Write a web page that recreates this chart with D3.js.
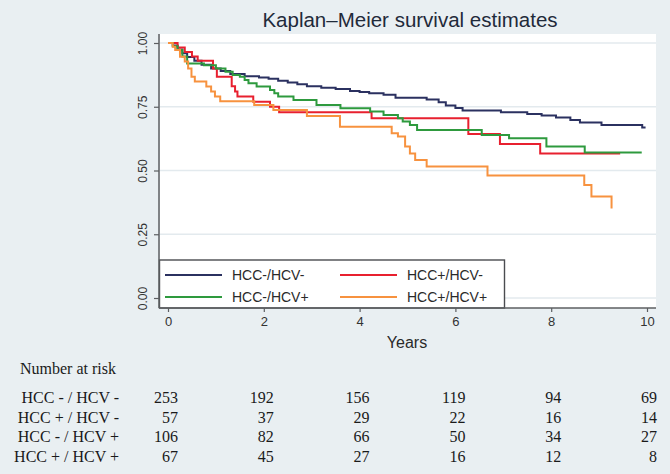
<!DOCTYPE html>
<html><head><meta charset="utf-8">
<script src="https://cdn.jsdelivr.net/npm/d3@7"></script>
<style>
html,body{margin:0;padding:0;background:#e9eff2;}
svg{display:block;}
</style></head>
<body><svg id="c" width="670" height="474"></svg>
<script>
// ---- data ----
const title = "Kaplan\u2013Meier survival estimates";
const xTicks = [0, 2, 4, 6, 8, 10];
const yTicks = [0, 0.25, 0.5, 0.75, 1];
const seriesNames = ["HCC-/HCV-", "HCC+/HCV-", "HCC-/HCV+", "HCC+/HCV+"];
const seriesColors = ["#2b3160", "#e8202f", "#2e9a3e", "#f7923f"];
// KM step points [years, survival]
const hccNegHcvNeg = [[0,1],[0.1,0.99],[0.2,0.975],[0.3,0.96],[0.4,0.945],[0.55,0.93],[0.7,0.915],[0.9,0.9],[1.1,0.89],[1.3,0.878],[1.6,0.87],[1.9,0.865],[2.1,0.86],[2.3,0.852],[2.5,0.845],[2.7,0.838],[2.9,0.83],[3.2,0.825],[3.5,0.82],[3.8,0.812],[4.0,0.808],[4.2,0.803],[4.5,0.797],[4.75,0.785],[5.4,0.778],[5.65,0.768],[5.8,0.755],[6.0,0.745],[6.15,0.735],[6.95,0.728],[7.5,0.722],[7.8,0.716],[8.1,0.708],[8.4,0.698],[8.6,0.688],[9.05,0.678],[9.9,0.669],[9.97,0.669]];
const hccPosHcvNeg = [[0,1],[0.2,0.982],[0.35,0.965],[0.5,0.947],[0.62,0.93],[0.94,0.9],[1.02,0.868],[1.33,0.83],[1.4,0.81],[1.45,0.79],[1.78,0.77],[2.13,0.75],[2.32,0.728],[4.25,0.705],[6.27,0.643],[6.93,0.604],[7.77,0.567],[9.44,0.567]];
const hccNegHcvPos = [[0,1],[0.1,0.987],[0.2,0.973],[0.3,0.947],[0.4,0.92],[0.75,0.913],[1.0,0.9],[1.2,0.887],[1.35,0.875],[1.5,0.868],[1.6,0.855],[1.68,0.842],[1.85,0.829],[2.13,0.816],[2.22,0.803],[2.3,0.79],[2.62,0.776],[3.1,0.757],[3.6,0.744],[4.22,0.731],[4.5,0.718],[4.8,0.705],[4.9,0.692],[5.05,0.678],[5.2,0.659],[6.55,0.639],[7.12,0.626],[7.9,0.594],[8.7,0.571],[9.89,0.571]];
const hccPosHcvPos = [[0,1],[0.1,0.985],[0.15,0.973],[0.25,0.946],[0.35,0.927],[0.42,0.9],[0.49,0.868],[0.56,0.849],[0.8,0.829],[0.9,0.81],[0.98,0.79],[1.09,0.772],[1.8,0.757],[2.2,0.737],[2.9,0.714],[3.59,0.672],[4.67,0.646],[4.8,0.633],[4.95,0.594],[5.05,0.567],[5.16,0.541],[5.4,0.516],[6.67,0.48],[8.69,0.443],[8.84,0.398],[9.26,0.351]];
const riskLabels = ["HCC - / HCV -", "HCC + / HCV -", "HCC - / HCV +", "HCC + / HCV +"];
const riskHccNegHcvNeg = [253, 192, 156, 119, 94, 69];
const riskHccPosHcvNeg = [57, 37, 29, 22, 16, 14];
const riskHccNegHcvPos = [106, 82, 66, 50, 34, 27];
const riskHccPosHcvPos = [67, 45, 27, 16, 12, 8];

// ---- drawing ----
const svg = d3.select("#c");
const x = d3.scaleLinear().domain([0, 10]).range([168, 647]);
const y = d3.scaleLinear().domain([0, 1]).range([298, 43]);
const plot = {l: 160, r: 656, t: 34, b: 308};
const axisCol = "#5d5f62";
const sans = "'Liberation Sans', Arial, Helvetica, sans-serif";
const serif = "'Liberation Serif', 'Times New Roman', serif";

svg.append("text").attr("x", 410).attr("y", 27).attr("text-anchor", "middle")
  .attr("font-family", sans).attr("font-size", 20.5).attr("fill", "#1f2a3a").text(title);

svg.append("rect").attr("x", plot.l).attr("y", plot.t).attr("width", plot.r - plot.l)
  .attr("height", plot.b - plot.t).attr("fill", "#ffffff");

svg.append("g").selectAll("line").data(yTicks).join("line")
  .attr("x1", plot.l).attr("x2", plot.r).attr("y1", d => y(d)).attr("y2", d => y(d))
  .attr("stroke", "#e3eaee").attr("stroke-width", 1.6);

const series = [hccNegHcvNeg, hccPosHcvNeg, hccNegHcvPos, hccPosHcvPos];
const line = d3.line().x(d => x(d[0])).y(d => y(d[1])).curve(d3.curveStepAfter);
svg.append("g").selectAll("path").data(series).join("path")
  .attr("d", line).attr("fill", "none")
  .attr("stroke", (d, i) => seriesColors[i]).attr("stroke-width", 2);

// legend
const lg = svg.append("g");
lg.append("rect").attr("x", 159.5).attr("y", 260).attr("width", 345).attr("height", 48)
  .attr("fill", "#ffffff").attr("stroke", "#4a4c50").attr("stroke-width", 1.4);
const legPos = [[165, 275], [340, 275], [165, 297], [340, 297]];
seriesNames.forEach((n, i) => {
  const [lx, ly] = legPos[i];
  lg.append("line").attr("x1", lx).attr("x2", lx + 57).attr("y1", ly).attr("y2", ly)
    .attr("stroke", seriesColors[i]).attr("stroke-width", 2.2);
  lg.append("text").attr("x", lx + 67).attr("y", ly).attr("dy", "0.36em")
    .attr("font-family", sans).attr("font-size", 14).attr("fill", "#2a2a2a").text(n);
});

// axes
const yAxis = svg.append("g").attr("transform", `translate(${plot.l - 1},0)`)
  .call(d3.axisLeft(y).tickValues(yTicks).tickFormat(d3.format(".2f")).tickSize(5).tickSizeOuter(0));
yAxis.select(".domain").attr("stroke", axisCol).attr("stroke-width", 1.5).attr("d", `M0,${plot.t}V${plot.b}`);
yAxis.selectAll(".tick line").attr("stroke", axisCol).attr("stroke-width", 1.2);
yAxis.selectAll(".tick text").attr("font-family", sans).attr("font-size", 12).attr("fill", "#333")
  .attr("transform", "rotate(-90)").attr("x", 0).attr("y", -12).attr("dy", 0)
  .attr("text-anchor", "middle");

const xAxis = svg.append("g").attr("transform", `translate(0,${plot.b})`)
  .call(d3.axisBottom(x).tickValues(xTicks).tickFormat(d3.format("d")).tickSize(4).tickSizeOuter(0));
xAxis.select(".domain").attr("stroke", axisCol).attr("stroke-width", 1.5).attr("d", `M${plot.l - 1},0H${plot.r}`);
xAxis.selectAll(".tick line").attr("stroke", axisCol).attr("stroke-width", 1.2);
xAxis.selectAll(".tick text").attr("font-family", sans).attr("font-size", 13).attr("fill", "#333")
  .attr("y", 9);

svg.append("text").attr("x", 407).attr("y", 342).attr("dy", "0.36em").attr("text-anchor", "middle")
  .attr("font-family", sans).attr("font-size", 16).attr("fill", "#2a2a2a").text("Years");

// risk table
svg.append("text").attr("x", 20).attr("y", 369).attr("dy", "0.33em")
  .attr("font-family", serif).attr("font-size", 16).attr("fill", "#1a1a1a").text("Number at risk");
const riskRows = [riskHccNegHcvNeg, riskHccPosHcvNeg, riskHccNegHcvPos, riskHccPosHcvPos];
const rowY = [398, 418, 437, 457];
riskRows.forEach((row, r) => {
  svg.append("text").attr("x", 119).attr("y", rowY[r]).attr("dy", "0.33em").attr("text-anchor", "end")
    .attr("font-family", serif).attr("font-size", 16).attr("fill", "#1a1a1a").text(riskLabels[r]);
  svg.append("g").selectAll("text").data(row).join("text")
    .attr("x", (d, i) => x(xTicks[i]) + 10).attr("y", rowY[r]).attr("dy", "0.33em")
    .attr("text-anchor", "end").attr("font-family", serif).attr("font-size", 16).attr("fill", "#1a1a1a")
    .text(d => d);
});
</script></body></html>
